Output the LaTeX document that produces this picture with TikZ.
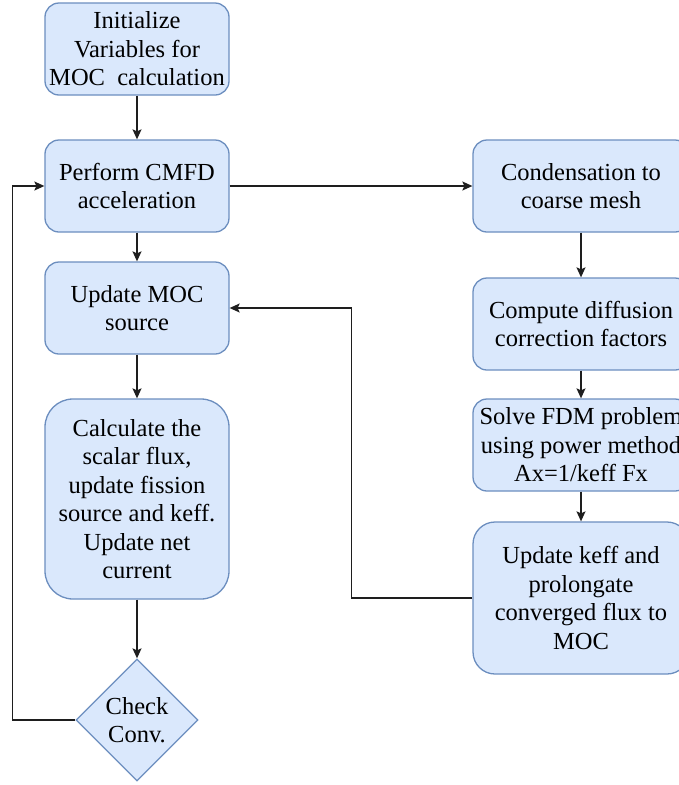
\documentclass[tikz,border=0pt]{standalone}
\usepackage{fontspec}
\setmainfont{Liberation Serif}
\usepackage{tikz}
\usetikzlibrary{shapes, arrows, arrows.meta, positioning}
\definecolor{boxfill}{RGB}{218, 232, 252}
\definecolor{boxline}{RGB}{108, 142, 191}
\definecolor{flowline}{RGB}{30, 30, 30}

\begin{document}
\begin{tikzpicture}[
        x=1pt, y=-1pt,
        every node/.style={font=\fontsize{24.5}{28.5}\selectfont},
        stepbox/.style={draw=boxline, fill=boxfill, line width=1.3pt, rectangle, rounded corners=14pt, minimum width=184pt, minimum height=92pt, align=center, inner sep=0pt},
        widebox/.style={stepbox, minimum width=216pt},
        checkbox/.style={draw=boxline, fill=boxfill, line width=1.3pt, diamond, aspect=1, minimum size=122pt, inner sep=-2pt, align=center},
        flow/.style={draw=flowline, line width=1.3pt, -{Stealth[length=10pt, width=9pt, inset=2pt]}}
    ]
        \useasboundingbox (0,0) rectangle (678,785);
        % main loop (left column)
        \node[stepbox] (init) at (137,49) {Initialize\\Variables for\\MOC~~calculation};
        \node[stepbox] (cmfd) at (137,186) {Perform CMFD\\acceleration};
        \node[stepbox] (mocsrc) at (137,308) {Update MOC\\source};
        \node[stepbox, minimum height=200pt, rounded corners=28pt] (flux) at (137,499) {Calculate the\\scalar flux,\\update fission\\source and keff.\\Update net\\current};
        \node[checkbox] (conv) at (137,720) {Check\\Conv.};
        % CMFD steps (right column)
        \node[widebox] (cond) at (581,186) {Condensation to\\coarse mesh};
        \node[widebox] (corr) at (581,324) {Compute diffusion\\correction factors};
        \node[widebox] (fdm) at (581,445) {Solve FDM problem\\using power method\\Ax=1/keff Fx};
        \node[widebox, minimum height=152pt, rounded corners=22pt] (keff) at (581,598) {Update keff and\\prolongate\\converged flux to\\MOC};

        \draw[flow] (init) -- (cmfd);
        \draw[flow] (cmfd) -- (mocsrc);
        \draw[flow] (mocsrc) -- (flux);
        \draw[flow] (flux) -- (conv);
        \draw[flow] (conv.west) -- ++(-63,0) |- (cmfd.west);
        \draw[flow] (cmfd) -- (cond);
        \draw[flow] (cond) -- (corr);
        \draw[flow] (corr) -- (fdm);
        \draw[flow] (fdm) -- (keff);
        \draw[flow] (keff.west) -- ++(-121,0) |- (mocsrc.east);
    \end{tikzpicture}
\end{document}
